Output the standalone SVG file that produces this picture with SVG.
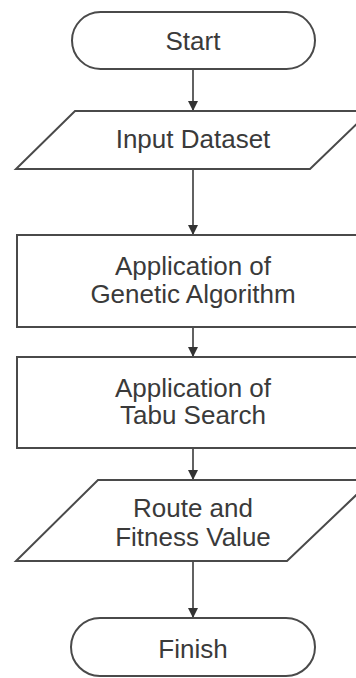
<svg xmlns="http://www.w3.org/2000/svg" width="356" height="678" viewBox="0 0 356 678">
<style>
.shape{fill:#ffffff;stroke:#4a4a4a;stroke-width:2}
.conn{stroke:#3a3a3a;stroke-width:1.6;fill:none}
text{font-family:"Liberation Sans",Arial,sans-serif;font-size:26px;fill:#3a3a3a;text-anchor:middle}
</style>
<defs>
<marker id="ah" markerWidth="10" markerHeight="10" refX="9" refY="5" orient="auto" markerUnits="userSpaceOnUse">
<path d="M0,0 L10,5 L0,10 Z" fill="#333"/>
</marker>
</defs>
<rect width="356" height="678" fill="#ffffff"/>
<g id="connectors">
<line class="conn" x1="193" y1="69" x2="193" y2="110" marker-end="url(#ah)"/>
<line class="conn" x1="193" y1="169" x2="193" y2="234" marker-end="url(#ah)"/>
<line class="conn" x1="193" y1="327" x2="193" y2="356" marker-end="url(#ah)"/>
<line class="conn" x1="193" y1="448" x2="193" y2="479" marker-end="url(#ah)"/>
<line class="conn" x1="193" y1="561" x2="193" y2="617" marker-end="url(#ah)"/>
</g>
<g id="start">
<rect class="shape" x="72" y="12" width="243" height="57" rx="28.5"/>
<text x="193" y="50">Start</text>
</g>
<g id="input">
<polygon class="shape" points="75,111 370,111 310,169 16,169"/>
<text x="193" y="148">Input Dataset</text>
</g>
<g id="ga">
<rect class="shape" x="17" y="235" width="360" height="92"/>
<text x="193" y="275">Application of</text>
<text x="193" y="303">Genetic Algorithm</text>
</g>
<g id="tabu">
<rect class="shape" x="17" y="357" width="360" height="91"/>
<text x="193" y="397">Application of</text>
<text x="193" y="424">Tabu Search</text>
</g>
<g id="route">
<polygon class="shape" points="98,480 372,480 287,561 16,561"/>
<text x="193" y="517">Route and</text>
<text x="193" y="546">Fitness Value</text>
</g>
<g id="finish">
<rect class="shape" x="71" y="618" width="244" height="58" rx="29"/>
<text x="193" y="658">Finish</text>
</g>
</svg>
